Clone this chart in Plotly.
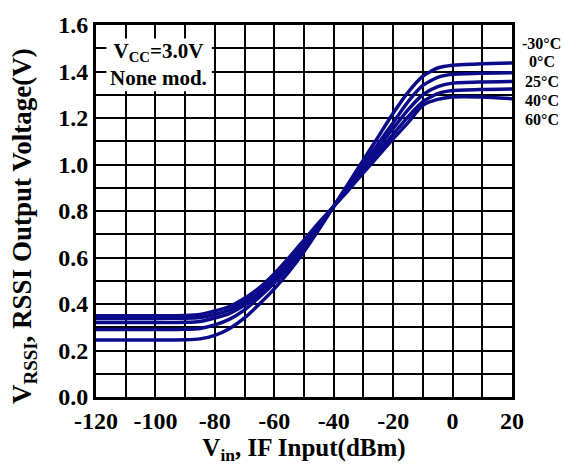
import plotly.graph_objects as go

vin_dbm = [-120, -110, -100, -90, -85, -80, -75, -70, -65, -60, -55, -50, -45,
           -40, -35, -30, -25, -20, -15, -10, -5, 0, 10, 20]

v_m30 = [0.245, 0.245, 0.245, 0.246, 0.25, 0.265, 0.295, 0.34, 0.40, 0.465, 0.54, 0.625,
         0.72, 0.82, 0.92, 1.02, 1.12, 1.22, 1.31, 1.38, 1.415, 1.427, 1.433, 1.437]
v_0 = [0.29, 0.29, 0.29, 0.291, 0.295, 0.31, 0.335, 0.375, 0.43, 0.49, 0.56, 0.64,
       0.73, 0.82, 0.91, 1.0, 1.09, 1.18, 1.27, 1.34, 1.375, 1.388, 1.393, 1.395]
v_25 = [0.32, 0.32, 0.32, 0.321, 0.325, 0.34, 0.36, 0.395, 0.445, 0.50, 0.57, 0.65,
        0.735, 0.82, 0.905, 0.99, 1.075, 1.155, 1.235, 1.30, 1.335, 1.35, 1.355, 1.357]
v_40 = [0.338, 0.338, 0.338, 0.339, 0.342, 0.355, 0.375, 0.41, 0.46, 0.515, 0.585, 0.66,
        0.74, 0.82, 0.90, 0.98, 1.055, 1.13, 1.205, 1.27, 1.305, 1.318, 1.323, 1.325]
v_60 = [0.35, 0.35, 0.35, 0.351, 0.355, 0.37, 0.39, 0.425, 0.47, 0.53, 0.60, 0.675,
        0.75, 0.82, 0.89, 0.965, 1.037, 1.11, 1.18, 1.255, 1.28, 1.29, 1.29, 1.283]

series = [v_m30, v_0, v_25, v_40, v_60]
temp_labels = ["-30°C", "0°C", "25°C", "40°C", "60°C"]
temp_label_v = [1.521, 1.441, 1.359, 1.277, 1.195]
note_text = "V<sub>CC</sub>=3.0V<br>None mod."

x_ticks = [-120, -100, -80, -60, -40, -20, 0, 20]
x_tick_text = ["-120", "-100", "-80", "-60", "-40", "-20", "0", "20"]
y_ticks = [0.0, 0.2, 0.4, 0.6, 0.8, 1.0, 1.2, 1.4, 1.6]

LINE = "#0b0b8a"
FONT = "Liberation Serif"

fig = go.Figure()
for s in series:
    fig.add_trace(go.Scatter(x=vin_dbm, y=s, mode="lines",
                             line=dict(color=LINE, width=3.5, shape="spline", smoothing=0.6),
                             showlegend=False, hoverinfo="skip"))

axis_common = dict(showline=True, linecolor="black", linewidth=3, mirror=True,
                   showgrid=True, gridcolor="black", gridwidth=2,
                   ticks="", zeroline=False, ticklabeloverflow="allow",
                   tickfont=dict(family=FONT, size=24, color="black", weight="bold"))

fig.update_xaxes(range=[-120, 20], tickvals=x_ticks, ticktext=x_tick_text,
                 minor=dict(dtick=10, showgrid=True, gridcolor="black", gridwidth=2),
                 title=dict(text="V<sub>in</sub>, IF Input(dBm)", standoff=5,
                            font=dict(family=FONT, size=25, color="black", weight="bold")),
                 **axis_common)
fig.update_yaxes(range=[0, 1.6], tickvals=y_ticks, tickformat=".1f",
                 minor=dict(dtick=0.1, showgrid=True, gridcolor="black", gridwidth=2),
                 **axis_common)

# y-axis title as rotated annotation
fig.add_annotation(xref="paper", yref="paper", x=-0.173, y=0.46,
                   text="V<sub>RSSI</sub>, RSSI Output Voltage(V)", textangle=-90,
                   showarrow=False, xanchor="center", yanchor="middle",
                   font=dict(family=FONT, size=27, color="black", weight="bold"))

# white note box
fig.add_shape(type="rect", xref="x", yref="y", x0=-116.5, x1=-81, y0=1.315, y1=1.542,
              fillcolor="white", line=dict(width=0), layer="above")
fig.add_annotation(xref="x", yref="y", x=-98.8, y=1.43, text=note_text, showarrow=False,
                   align="center", yanchor="middle",
                   font=dict(family=FONT, size=21, color="black", weight="bold"))

for t, vv in zip(temp_labels, temp_label_v):
    fig.add_annotation(xref="paper", yref="y", x=1.072, y=vv, text=t, showarrow=False,
                       xanchor="center",
                       font=dict(family=FONT, size=16, color="black", weight="bold"))

fig.update_layout(width=564, height=474, margin=dict(l=96, r=52, t=16, b=77),
                  paper_bgcolor="white", plot_bgcolor="white")

fig.write_html("out.html", config={"displayModeBar": False},
               post_script="document.body.style.margin='0';document.body.style.overflow='hidden';")
